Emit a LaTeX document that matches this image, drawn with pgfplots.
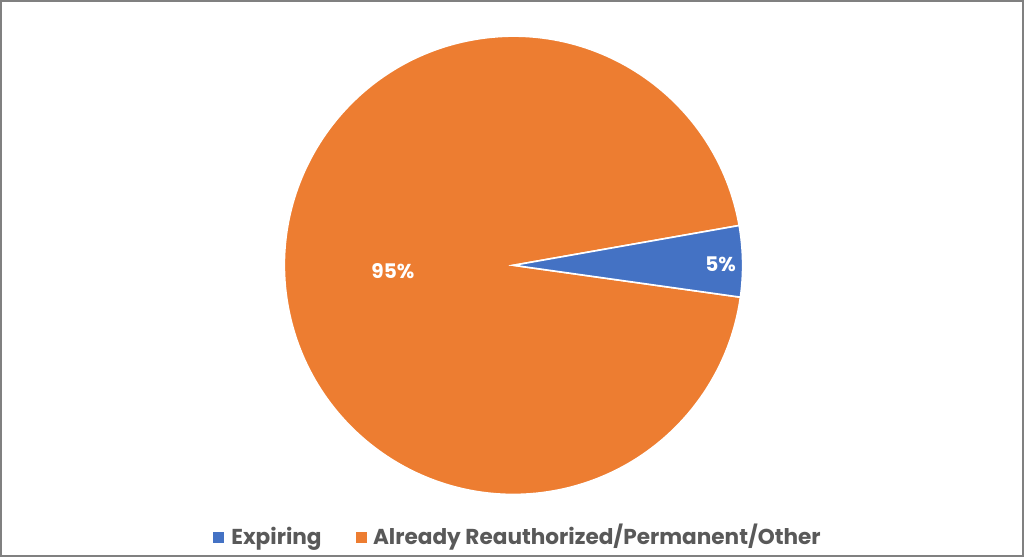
\documentclass[border=0pt]{standalone}
\usepackage{pgfplots}
\pgfplotsset{compat=1.18}
\usepackage{pgfplotstable}
\usepackage{fontspec}
\setmainfont{Poppins}
\definecolor{pieblue}{HTML}{4472C4}
\definecolor{pieorange}{HTML}{ED7D31}
\definecolor{legtext}{HTML}{595959}
\definecolor{framegray}{HTML}{808080}
\pgfplotstableread{
share label
5 Expiring
95 Other
}\piedata
\begin{document}
\begin{tikzpicture}
\pgfplotstablegetelem{0}{share}\of\piedata \let\va\pgfplotsretval
\pgfplotstablegetelem{1}{share}\of\piedata \let\vb\pgfplotsretval
\pgfmathsetmacro{\sa}{-8}
\pgfmathsetmacro{\ea}{\sa+3.6*\va}
\pgfmathsetmacro{\eb}{\ea+3.6*\vb}
\pgfmathsetmacro{\xs}{228*cos(\sa)}
\pgfmathsetmacro{\ys}{228*sin(\sa)}
\pgfmathsetmacro{\xe}{228*cos(\ea)}
\pgfmathsetmacro{\ye}{228*sin(\ea)}
\begin{axis}[
  x=1pt, y=1pt,
  xmin=-513, xmax=511, ymin=-292, ymax=266,
  hide axis, clip=false,
]
% frame
\draw[framegray, line width=2pt] (axis cs:-510,-289) rectangle (axis cs:507,263);
% wedges
\fill[pieorange, draw=white, line width=1.6pt] (axis cs:0,0) -- (axis cs:\xe,\ye) arc[start angle=\ea, end angle=\eb, radius=228pt] -- cycle;
\fill[pieblue, draw=white, line width=1.6pt] (axis cs:0,0) -- (axis cs:\xs,\ys) arc[start angle=\sa, end angle=\ea, radius=228pt] -- cycle;
% labels
\node[white, font=\fontsize{20}{21}\selectfont\bfseries] at (axis cs:-120,-6) {95\%};
\node[white, font=\fontsize{20}{21}\selectfont\bfseries] at (axis cs:206,1) {5\%};
% legend
\fill[pieblue] (axis cs:-299,-276) rectangle (axis cs:-288,-265);
\node[anchor=base west, legtext, font=\fontsize{21.5}{22}\selectfont\bfseries, inner sep=0pt] at (axis cs:-281,-278) {Expiring};
\fill[pieorange] (axis cs:-157,-276) rectangle (axis cs:-146,-265);
\node[anchor=base west, legtext, font=\fontsize{21.5}{22}\selectfont\bfseries, inner sep=0pt] at (axis cs:-140,-278) {Already Reauthorized/Permanent/Other};
\end{axis}
\end{tikzpicture}
\end{document}
